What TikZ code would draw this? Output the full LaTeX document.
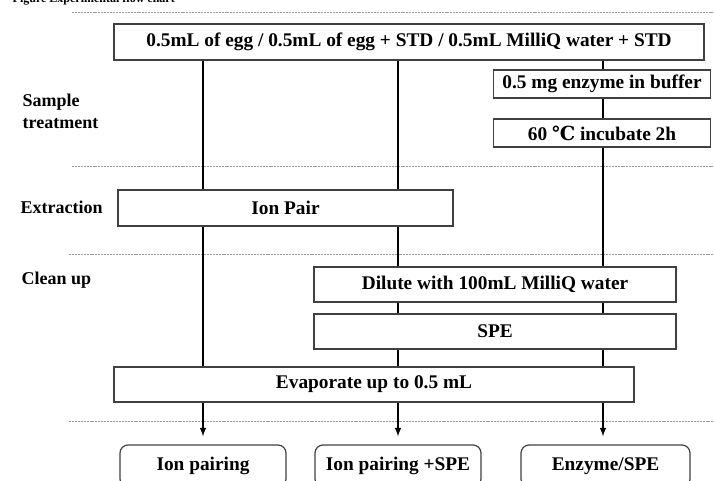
\documentclass[tikz,border=0pt]{standalone}
\usepackage{fontspec}
\setmainfont{Liberation Serif}
\newfontfamily\symfont{DejaVu Serif}
\usetikzlibrary{arrows}
\definecolor{BoxClr}{rgb}{0.25,0.25,0.25}
\definecolor{SepClr}{rgb}{0.6,0.6,0.6}

\begin{document}
\begin{tikzpicture}[x=0.75pt,y=-0.75pt,
  stepbox/.style={draw=BoxClr,line width=0.9pt,fill=white,inner sep=0pt,
    font=\bfseries\fontsize{14.5}{17}\selectfont},
  endbox/.style={stepbox,rounded corners=6pt},
  phase/.style={font=\bfseries\fontsize{13.5}{16.5}\selectfont,align=left,anchor=west},
  sep/.style={draw=SepClr,line width=0.6pt,dash pattern=on 1.5pt off 0.7pt},
  flow/.style={line width=1.2pt,black}]
\useasboundingbox (0,0) rectangle (714,481);
\clip (0,0) rectangle (714,481);

% columns
\coordinate (c1) at (203,0);
\coordinate (c2) at (398,0);
\coordinate (c3) at (603,0);

% title and phases
\node[phase,anchor=base west,font=\bfseries\fontsize{9}{11}\selectfont] (title) at (8,3) {Figure Experimental flow chart};
\node[phase] (treat) at (18,111) {Sample\\treatment};
\node[phase] (extr) at (16,207) {Extraction};
\node[phase] (clean) at (17,280) {Clean up};

\draw[sep] (72,12) -- (714,12);
\draw[sep] (72,166) -- (714,166);
\draw[sep] (69,254) -- (714,254);
\draw[sep] (69,421) -- (714,421);

% boxes
\node[stepbox,minimum width=442.5pt,minimum height=27pt] (top) at (409,42) {0.5mL of egg / 0.5mL of egg + STD / 0.5mL MilliQ water + STD};
\node[stepbox,minimum width=162.75pt,minimum height=21pt] (enzyme) at (602,84) {0.5 mg enzyme in buffer};
\node[stepbox,minimum width=162.75pt,minimum height=21pt] (incub) at (602,133) {60 {\symfont ℃} incubate 2h};
\node[stepbox,minimum width=251.25pt,minimum height=27pt] (ionpair) at (285.5,208) {Ion Pair};
\node[stepbox,minimum width=271.5pt,minimum height=26.25pt] (dilute) at (495,284.5) {Dilute with 100mL MilliQ water};
\node[stepbox,minimum width=271.5pt,minimum height=26.25pt] (spe) at (495,331.5) {SPE};
\node[stepbox,minimum width=390pt,minimum height=26.25pt] (evap) at (374,384.5) {Evaporate up to 0.5 mL};

\node[endbox,minimum width=124.5pt,minimum height=31.5pt] (res1) at (203,466) {Ion pairing};
\node[endbox,minimum width=124.5pt,minimum height=31.5pt] (res2) at (398,466) {Ion pairing +SPE};
\node[endbox,minimum width=126.75pt,minimum height=31.5pt] (res3) at (605.5,466) {Enzyme/SPE};

% flow lines
\foreach \a/\b/\c in {top/ionpair/c1, ionpair/evap/c1,
    top/ionpair/c2, ionpair/dilute/c2, dilute/spe/c2, spe/evap/c2,
    top/enzyme/c3, enzyme/incub/c3, incub/dilute/c3, dilute/spe/c3, spe/evap/c3}
  \draw[flow] (\a.south -| \c) -- (\b.north -| \c);

\foreach \c/\r in {c1/res1, c2/res2, c3/res3}
  \draw[flow,-latex] (evap.south -| \c) -- ([yshift=6]\r.north -| \c);
\end{tikzpicture}
\end{document}
